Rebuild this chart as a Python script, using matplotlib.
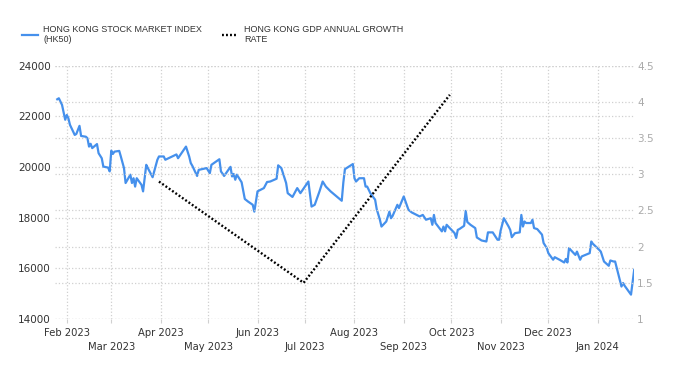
import matplotlib
matplotlib.use("Agg")
import matplotlib.pyplot as plt
import pandas as pd

# HK50 daily closes
hk50_dates = [
    "2023-01-26", "2023-01-27", "2023-01-29", "2023-01-31", "2023-02-01", "2023-02-02", "2023-02-03",
    "2023-02-06", "2023-02-07", "2023-02-09", "2023-02-10", "2023-02-13", "2023-02-14", "2023-02-15",
    "2023-02-16", "2023-02-17", "2023-02-20", "2023-02-21", "2023-02-23", "2023-02-24", "2023-02-27",
    "2023-02-28", "2023-03-01", "2023-03-02", "2023-03-03", "2023-03-06", "2023-03-07", "2023-03-09",
    "2023-03-10", "2023-03-13", "2023-03-14", "2023-03-15", "2023-03-16", "2023-03-17", "2023-03-20",
    "2023-03-21", "2023-03-23", "2023-03-24", "2023-03-27", "2023-03-30", "2023-03-31", "2023-04-03",
    "2023-04-04", "2023-04-11", "2023-04-12", "2023-04-17", "2023-04-19", "2023-04-20", "2023-04-21",
    "2023-04-24", "2023-04-25", "2023-04-30", "2023-05-02", "2023-05-03", "2023-05-08", "2023-05-09",
    "2023-05-11", "2023-05-15", "2023-05-16", "2023-05-17", "2023-05-18", "2023-05-19", "2023-05-22",
    "2023-05-24", "2023-05-26", "2023-05-29", "2023-05-30", "2023-06-01", "2023-06-05", "2023-06-07",
    "2023-06-09", "2023-06-13", "2023-06-14", "2023-06-16", "2023-06-19", "2023-06-20", "2023-06-23",
    "2023-06-26", "2023-06-28", "2023-07-03", "2023-07-05", "2023-07-07", "2023-07-10", "2023-07-12",
    "2023-07-14", "2023-07-17", "2023-07-24", "2023-07-25", "2023-07-26", "2023-07-31", "2023-08-01",
    "2023-08-02", "2023-08-04", "2023-08-07", "2023-08-08", "2023-08-09", "2023-08-11", "2023-08-14",
    "2023-08-15", "2023-08-17", "2023-08-18", "2023-08-21", "2023-08-23", "2023-08-24", "2023-08-25",
    "2023-08-28", "2023-08-29", "2023-09-01", "2023-09-04", "2023-09-06", "2023-09-11", "2023-09-13",
    "2023-09-15", "2023-09-18", "2023-09-19", "2023-09-20", "2023-09-21", "2023-09-25", "2023-09-26",
    "2023-09-27", "2023-09-28", "2023-10-03", "2023-10-04", "2023-10-05", "2023-10-06", "2023-10-09",
    "2023-10-10", "2023-10-11", "2023-10-13", "2023-10-16", "2023-10-17", "2023-10-20", "2023-10-23",
    "2023-10-24", "2023-10-27", "2023-10-30", "2023-10-31", "2023-11-01", "2023-11-03", "2023-11-06",
    "2023-11-07", "2023-11-08", "2023-11-10", "2023-11-13", "2023-11-14", "2023-11-15", "2023-11-16",
    "2023-11-17", "2023-11-20", "2023-11-21", "2023-11-22", "2023-11-24", "2023-11-27", "2023-11-28",
    "2023-11-30", "2023-12-01", "2023-12-04", "2023-12-05", "2023-12-08", "2023-12-11", "2023-12-12",
    "2023-12-13", "2023-12-14", "2023-12-15", "2023-12-18", "2023-12-19", "2023-12-21", "2023-12-22",
    "2023-12-27", "2023-12-28", "2023-12-29", "2024-01-02", "2024-01-03", "2024-01-04", "2024-01-05",
    "2024-01-08", "2024-01-09", "2024-01-11", "2024-01-12", "2024-01-16", "2024-01-17", "2024-01-18",
    "2024-01-22", "2024-01-24",
]
hk50_values = [
    22680, 22720, 22460, 21870, 22060, 21930, 21670,
    21270, 21310, 21630, 21230, 21200, 21140, 20810,
    20920, 20750, 20910, 20550, 20350, 20020, 19980,
    19830, 20650, 20520, 20610, 20640, 20420, 19960,
    19370, 19700, 19370, 19560, 19230, 19560, 19300,
    19040, 20090, 19960, 19600, 20290, 20420, 20420,
    20290, 20500, 20350, 20810, 20420, 20160, 20050,
    19650, 19890, 19960, 19760, 20090, 20310, 19830,
    19650, 20010, 19630, 19730, 19500, 19700, 19400,
    18740, 18640, 18510, 18240, 19040, 19170, 19410,
    19430, 19540, 20070, 19960, 19370, 18970, 18820,
    19170, 18970, 19430, 18440, 18510, 19040, 19430,
    19230, 19040, 18670, 19390, 19920, 20120, 19560,
    19430, 19560, 19560, 19230, 19230, 18970, 18710,
    18340, 17920, 17650, 17850, 18240, 17980, 18070,
    18510, 18380, 18840, 18310, 18210, 18050, 18110,
    17920, 17980, 17720, 18110, 17790, 17460, 17650,
    17460, 17720, 17390, 17200, 17520, 17550, 17680,
    18270, 17830, 17720, 17590, 17220, 17100, 17060,
    17420, 17420, 17130, 17130, 17500, 17980, 17650,
    17520, 17230, 17390, 17420, 18110, 17650, 17850,
    17790, 17790, 17920, 17590, 17550, 17330, 17000,
    16800, 16600, 16340, 16440, 16340, 16230, 16370,
    16230, 16800, 16730, 16530, 16660, 16340, 16470,
    16600, 17060, 16970, 16730, 16660, 16470, 16270,
    16100, 16310, 16270, 16270, 15280, 15420, 15310,
    14960, 15940,
]

# GDP annual growth rate, quarterly
gdp_dates = ["2023-03-31", "2023-06-30", "2023-09-30"]
gdp_values = [2.9, 1.5, 4.1]

left_ticks = [14000, 16000, 18000, 20000, 22000, 24000]
right_ticks = [1, 1.5, 2, 2.5, 3, 3.5, 4, 4.5]
right_labels = ["1", "1.5", "2", "2.5", "3", "3.5", "4", "4.5"]

month_starts = pd.date_range("2023-02-01", "2024-01-01", freq="MS")
month_labels = [d.strftime("%b %Y") for d in month_starts]

blue = "#4590ec"
grid_c = "#d0d0d0"
tick_c = "#333333"

fig = plt.figure(figsize=(6.79, 3.70), dpi=100)
ax = fig.add_axes([0.081, 0.138, 0.853, 0.684])
ax2 = ax.twinx()

ax.plot(pd.to_datetime(hk50_dates), hk50_values, color=blue, lw=1.6, zorder=3)
ax2.plot(pd.to_datetime(gdp_dates), gdp_values, color="black", lw=1.7,
         linestyle=(0, (0.8, 0.9)), zorder=3)

ax.set_ylim(14000, 24000)
ax.set_yticks(left_ticks)
ax2.set_ylim(1, 4.5)
ax2.set_yticks(right_ticks)
ax2.set_yticklabels(right_labels)
ax.set_xlim(pd.Timestamp("2023-01-24 14:00"), pd.Timestamp("2024-01-24"))

# alternate month labels between two rows
ax.set_xticks(month_starts)
ax.set_xticklabels([m if i % 2 == 0 else "\n" + m for i, m in enumerate(month_labels)],
                   linespacing=1.45)

for a in (ax, ax2):
    for s in a.spines.values():
        s.set_visible(False)

ax.grid(axis="x", color=grid_c, linestyle=":", lw=0.9)
ax.grid(axis="y", color=grid_c, linestyle=":", lw=0.9)
ax2.grid(axis="y", color=grid_c, linestyle=":", lw=0.9)
ax.set_axisbelow(True)
ax2.set_axisbelow(True)

ax.tick_params(axis="y", length=0, labelsize=7.5, labelcolor=tick_c, pad=3)
ax.tick_params(axis="x", length=3, color=grid_c, labelsize=7.2, labelcolor=tick_c, pad=3.5)
ax2.tick_params(axis="y", length=0, labelsize=7.5, labelcolor="#aaaaaa", pad=2)

h1, = ax.plot([], [], color=blue, lw=1.6)
h2, = ax.plot([], [], color="black", lw=1.7, linestyle=(0, (0.8, 0.9)))
fig.legend([h1, h2],
           ["HONG KONG STOCK MARKET INDEX\n(HK50)", "HONG KONG GDP ANNUAL GROWTH\nRATE"],
           loc="upper left", bbox_to_anchor=(0.02, 0.955), ncol=2, frameon=False,
           prop={"family": "Liberation Sans", "size": 6.5}, labelcolor=tick_c,
           handlelength=1.8, handletextpad=0.6, columnspacing=2.2)

fig.savefig("out.png", dpi=100)
